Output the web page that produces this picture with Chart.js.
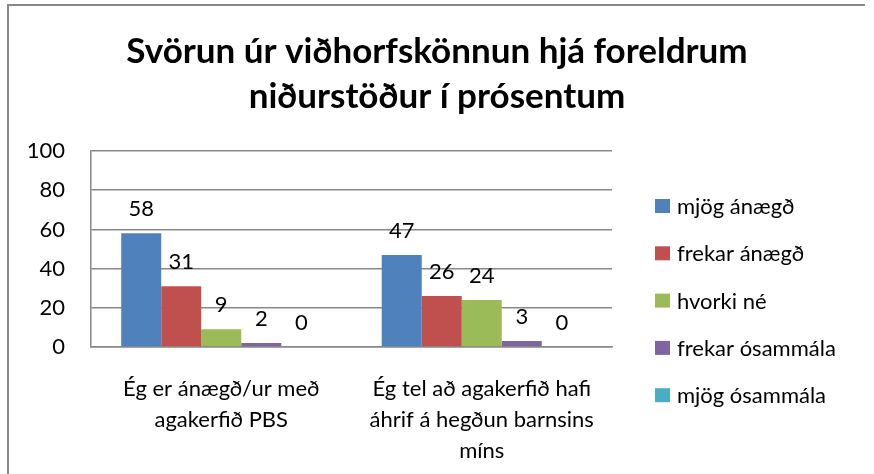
<!DOCTYPE html>
<html><head><meta charset="utf-8">
<script src="https://cdn.jsdelivr.net/npm/chart.js@4.4.0/dist/chart.umd.min.js"></script>
<style>html,body{margin:0;padding:0;background:#fff}canvas{display:block}</style>
</head><body>
<canvas id="c" width="874" height="474"></canvas>
<script>
const titleLines = ["Svörun úr viðhorfskönnun hjá foreldrum", "niðurstöður í prósentum"];
const categories = [["Ég er ánægð/ur með", "agakerfið PBS"], ["Ég tel að agakerfið hafi", "áhrif á hegðun barnsins", "míns"]];
const seriesNames = ["mjög ánægð", "frekar ánægð", "hvorki né", "frekar ósammála", "mjög ósammála"];
const mjogAnaegd = [58, 47];
const frekarAnaegd = [31, 26];
const hvorkiNe = [9, 24];
const frekarOsammala = [2, 3];
const mjogOsammala = [0, 0];
const yTicks = [0, 20, 40, 60, 80, 100];
const colors = ['#4F81BD', '#C0504D', '#9BBB59', '#8064A2', '#4BACC6'];

const seriesValues = [mjogAnaegd, frekarAnaegd, hvorkiNe, frekarOsammala, mjogOsammala];
const FONT = 'Lato';

const framePlugin = {
  id: 'frame',
  beforeDraw(chart) {
    const ctx = chart.ctx;
    ctx.save();
    ctx.fillStyle = '#fff';
    ctx.fillRect(0, 0, chart.width, chart.height);
    ctx.strokeStyle = '#888888';
    ctx.lineWidth = 2;
    ctx.beginPath();
    ctx.moveTo(8, 474);
    ctx.lineTo(8, 5);
    ctx.lineTo(865, 5);
    ctx.stroke();
    ctx.restore();
  }
};

const labelPlugin = {
  id: 'valueLabels',
  afterDatasetsDraw(chart) {
    const ctx = chart.ctx;
    ctx.save();
    ctx.font = '22px ' + FONT;
    ctx.fillStyle = '#000';
    ctx.textAlign = 'center';
    ctx.textBaseline = 'alphabetic';
    chart.data.datasets.forEach((ds, i) => {
      chart.getDatasetMeta(i).data.forEach((bar, j) => {
        ctx.fillText(String(ds.data[j]), bar.x, bar.y - 17);
      });
    });
    ctx.restore();
  }
};

// Legend drawn to the right of the plot, in the reserved right space
const legendPlugin = {
  id: 'sideLegend',
  afterDraw(chart) {
    const ctx = chart.ctx;
    const area = chart.chartArea;
    const boxX = area.right + 43;
    const firstY = 206, step = 47.3;
    ctx.save();
    ctx.font = '22px ' + FONT;
    ctx.textAlign = 'left';
    ctx.textBaseline = 'middle';
    chart.data.datasets.forEach((ds, i) => {
      const cy = firstY + i * step;
      ctx.fillStyle = ds.backgroundColor;
      ctx.fillRect(boxX, cy - 7, 15, 14);
      ctx.fillStyle = '#000';
      ctx.fillText(ds.label, boxX + 22, cy + 1);
    });
    ctx.restore();
  }
};

new Chart(document.getElementById('c'), {
  type: 'bar',
  data: {
    labels: categories,
    datasets: seriesNames.map((name, i) => ({
      label: name,
      data: seriesValues[i],
      backgroundColor: colors[i],
      borderWidth: 0,
      categoryPercentage: 0.768,
      barPercentage: 1
    }))
  },
  options: {
    responsive: false,
    devicePixelRatio: 1,
    animation: false,
    layout: { padding: { left: 0, right: 0, top: 5, bottom: 0 } },
    plugins: {
      title: {
        display: true,
        text: titleLines,
        color: '#000',
        font: { family: FONT, size: 35, weight: 'bold', lineHeight: 1.286 },
        padding: { top: 24, bottom: 32 }
      },
      legend: { display: false },
      tooltip: { enabled: false }
    },
    scales: {
      x: {
        afterFit(axis) { axis.height = 127; },
        grid: { display: false, drawTicks: false },
        border: { display: true, color: '#888888', width: 1.5 },
        ticks: { color: '#000', font: { family: FONT, size: 22, lineHeight: 1.41 }, padding: 26, maxRotation: 0, autoSkip: false }
      },
      y: {
        min: 0, max: 100,
        afterFit(axis) { axis.width = 91; },
        afterBuildTicks(axis) { axis.ticks = yTicks.map(v => ({ value: v })); },
        grid: { color: '#888888', lineWidth: 1.5, drawTicks: false },
        border: { display: true, color: '#888888', width: 1.5 },
        ticks: { color: '#000', font: { family: FONT, size: 22 }, padding: 26 }
      },
      legendSpace: {
        type: 'linear',
        position: 'right',
        display: true,
        afterFit(axis) { axis.width = 262; },
        grid: { display: false, drawTicks: false },
        border: { display: false },
        ticks: { display: false }
      }
    }
  },
  plugins: [framePlugin, labelPlugin, legendPlugin]
});
</script>
</body></html>
